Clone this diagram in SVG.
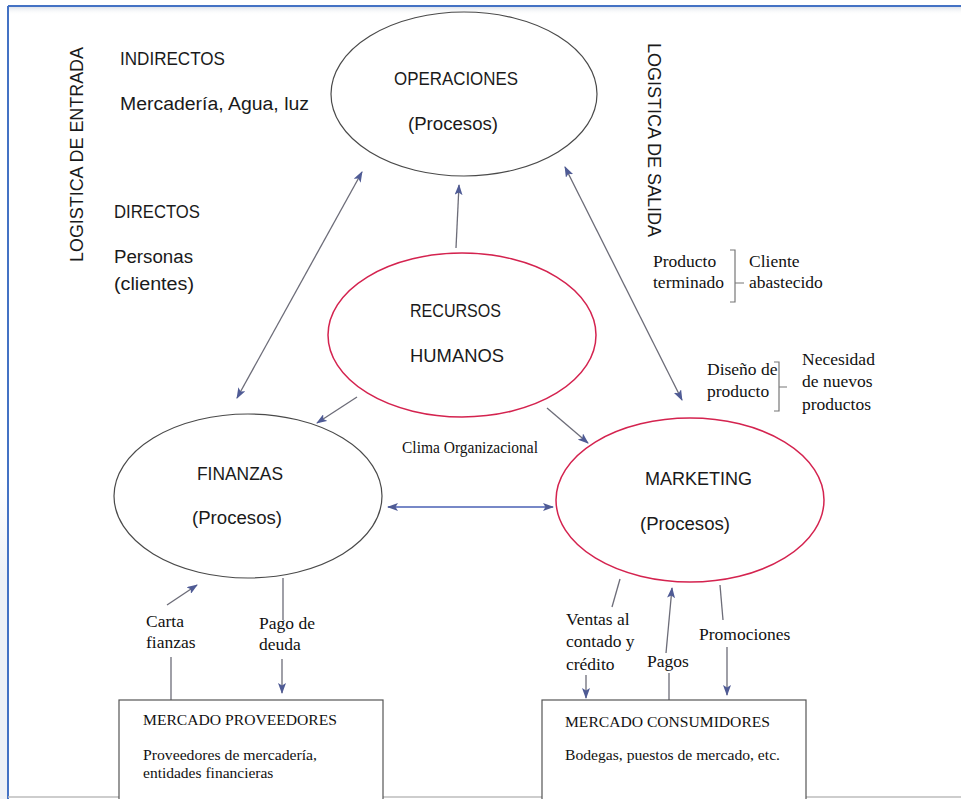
<svg xmlns="http://www.w3.org/2000/svg" width="961" height="799" viewBox="0 0 961 799">
  <defs>
    <marker id="head" markerUnits="userSpaceOnUse" markerWidth="11" markerHeight="8" refX="10" refY="4" orient="auto-start-reverse">
      <path d="M0,0 L11,4 L0,8 L2.5,4 z" fill="#4f5b95"/>
    </marker>
    <linearGradient id="shade" x1="0" y1="0" x2="0" y2="1">
      <stop offset="0" stop-color="#dfe3ea"/>
      <stop offset="1" stop-color="#ffffff" stop-opacity="0"/>
    </linearGradient>
    <linearGradient id="edge" x1="0" y1="0" x2="0" y2="1">
      <stop offset="0" stop-color="#ffffff"/>
      <stop offset="0.3" stop-color="#eef1f6"/>
      <stop offset="1" stop-color="#eef1f6"/>
    </linearGradient>
    <style>
      .sans { font-family: "Liberation Sans", Arial, sans-serif; font-size: 18px; fill: #1a1a1a; }
      .serif { font-family: "Liberation Serif", "Times New Roman", serif; font-size: 17.5px; fill: #111111; }
      .box-t { font-family: "Liberation Serif", "Times New Roman", serif; font-size: 15.5px; fill: #111111; }
      .oval { fill: #ffffff; stroke: #4a4a4a; stroke-width: 1.2; }
      .oval-red { fill: #ffffff; stroke: #d4234f; stroke-width: 1.5; }
      .box { fill: #ffffff; stroke: #555555; stroke-width: 1.2; }
      .link { fill: none; stroke: #6c6c78; stroke-width: 1.3; }
      .link-blue { fill: none; stroke: #4a60b4; stroke-width: 1.4; }
      .brace { fill: none; stroke: #777777; stroke-width: 1.2; }
    </style>
  </defs>

  <!-- page background and frame -->
  <rect x="0" y="0" width="961" height="799" fill="#ffffff"/>
  <rect x="0" y="480" width="7" height="319" fill="url(#edge)"/>
  <rect x="9" y="7" width="952" height="8" fill="url(#shade)"/>
  <line x1="8" y1="6" x2="961" y2="6" stroke="#4472c4" stroke-width="2"/>
  <line x1="8" y1="6" x2="8" y2="799" stroke="#4472c4" stroke-width="2"/>
  <line x1="8" y1="797" x2="961" y2="797" stroke="#bdbdbd" stroke-width="1.5"/>

  <!-- side labels -->
  <g id="logistica-entrada">
    <text class="sans" transform="translate(83,262) rotate(-90)" font-size="19" textLength="215" lengthAdjust="spacingAndGlyphs">LOGISTICA DE ENTRADA</text>
  </g>
  <g id="logistica-salida">
    <text class="sans" transform="translate(648,43) rotate(90)" font-size="19" textLength="194" lengthAdjust="spacingAndGlyphs">LOGISTICA DE SALIDA</text>
  </g>
  <g id="indirectos">
    <text class="sans" x="120" y="65" textLength="105" lengthAdjust="spacingAndGlyphs">INDIRECTOS</text>
    <text class="sans" x="120" y="110" textLength="189" lengthAdjust="spacingAndGlyphs">Mercadería, Agua, luz</text>
  </g>
  <g id="directos">
    <text class="sans" x="114" y="218" textLength="86" lengthAdjust="spacingAndGlyphs">DIRECTOS</text>
    <text class="sans" x="114" y="263" textLength="79" lengthAdjust="spacingAndGlyphs">Personas</text>
    <text class="sans" x="114" y="290" textLength="80" lengthAdjust="spacingAndGlyphs">(clientes)</text>
  </g>

  <!-- connectors -->
  <g id="connectors">
    <line class="link" x1="237" y1="398" x2="362" y2="172" marker-start="url(#head)" marker-end="url(#head)"/>
    <line class="link" x1="456" y1="248" x2="459" y2="185" marker-end="url(#head)"/>
    <line class="link" x1="565" y1="167" x2="682" y2="400" marker-start="url(#head)" marker-end="url(#head)"/>
    <line class="link" x1="357" y1="397" x2="317" y2="423" marker-end="url(#head)"/>
    <line class="link" x1="547" y1="408" x2="588" y2="443" marker-end="url(#head)"/>
    <line class="link-blue" x1="388" y1="507" x2="553" y2="507" marker-start="url(#head)" marker-end="url(#head)"/>

    <!-- finanzas / proveedores -->
    <line class="link" x1="167" y1="605" x2="197" y2="585" marker-end="url(#head)"/>
    <line class="link" x1="171" y1="657" x2="171" y2="700"/>
    <line class="link" x1="283" y1="578" x2="283" y2="620"/>
    <line class="link" x1="282" y1="659" x2="282" y2="693" marker-end="url(#head)"/>

    <!-- marketing / consumidores -->
    <line class="link" x1="620" y1="579" x2="612" y2="607"/>
    <line class="link" x1="586" y1="675" x2="586" y2="698" marker-end="url(#head)"/>
    <line class="link" x1="669" y1="700" x2="669" y2="673"/>
    <line class="link" x1="666" y1="653" x2="672" y2="588" marker-end="url(#head)"/>
    <line class="link" x1="720" y1="585" x2="723" y2="620"/>
    <line class="link" x1="727" y1="647" x2="727" y2="695" marker-end="url(#head)"/>
  </g>

  <!-- nodes -->
  <g id="operaciones">
    <ellipse class="oval" cx="464" cy="94" rx="133" ry="82"/>
    <text class="sans" x="394" y="85" textLength="124" lengthAdjust="spacingAndGlyphs">OPERACIONES</text>
    <text class="sans" x="408" y="130" textLength="90" lengthAdjust="spacingAndGlyphs">(Procesos)</text>
  </g>
  <g id="recursos-humanos">
    <ellipse class="oval-red" cx="462" cy="335" rx="134" ry="82"/>
    <text class="sans" x="410" y="317" textLength="91" lengthAdjust="spacingAndGlyphs">RECURSOS</text>
    <text class="sans" x="410" y="362" textLength="94" lengthAdjust="spacingAndGlyphs">HUMANOS</text>
  </g>
  <g id="finanzas">
    <ellipse class="oval" cx="248" cy="496" rx="134" ry="82"/>
    <text class="sans" x="197" y="480" textLength="86" lengthAdjust="spacingAndGlyphs">FINANZAS</text>
    <text class="sans" x="192" y="524" textLength="90" lengthAdjust="spacingAndGlyphs">(Procesos)</text>
  </g>
  <g id="marketing">
    <ellipse class="oval-red" cx="690" cy="500" rx="134" ry="82"/>
    <text class="sans" x="645" y="485" textLength="107" lengthAdjust="spacingAndGlyphs">MARKETING</text>
    <text class="sans" x="640" y="530" textLength="90" lengthAdjust="spacingAndGlyphs">(Procesos)</text>
  </g>

  <g id="clima">
    <text class="serif" x="402" y="453" font-size="15.5" textLength="136" lengthAdjust="spacingAndGlyphs">Clima Organizacional</text>
  </g>

  <!-- annotations with braces -->
  <g id="producto-terminado">
    <text class="serif" x="653" y="267">Producto</text>
    <text class="serif" x="653" y="288">terminado</text>
    <path class="brace" d="M730,250 H735 V302 H730 M735,283 H744"/>
    <text class="serif" x="749" y="267">Cliente</text>
    <text class="serif" x="749" y="288">abastecido</text>
  </g>
  <g id="diseno-producto">
    <text class="serif" x="707" y="375">Diseño de</text>
    <text class="serif" x="707" y="397">producto</text>
    <path class="brace" d="M774,362 H779 V411 H774 M779,387 H787"/>
    <text class="serif" x="802" y="365">Necesidad</text>
    <text class="serif" x="802" y="387">de nuevos</text>
    <text class="serif" x="802" y="410">productos</text>
  </g>

  <!-- flow labels -->
  <g id="labels">
    <text class="serif" x="146" y="627">Carta</text>
    <text class="serif" x="146" y="648">fianzas</text>
    <text class="serif" x="259" y="629">Pago de</text>
    <text class="serif" x="259" y="650">deuda</text>
    <text class="serif" x="566" y="625">Ventas al</text>
    <text class="serif" x="566" y="647">contado y</text>
    <text class="serif" x="566" y="670">crédito</text>
    <text class="serif" x="647" y="667">Pagos</text>
    <text class="serif" x="699" y="640">Promociones</text>
  </g>

  <g id="mercado-proveedores">
    <rect class="box" x="119" y="700" width="264" height="110"/>
    <text class="box-t" x="143" y="725" textLength="194" lengthAdjust="spacingAndGlyphs">MERCADO PROVEEDORES</text>
    <text class="box-t" x="143" y="760" textLength="174" lengthAdjust="spacingAndGlyphs">Proveedores de mercadería,</text>
    <text class="box-t" x="143" y="778">entidades financieras</text>
  </g>
  <g id="mercado-consumidores">
    <rect class="box" x="542" y="700" width="264" height="110"/>
    <text class="box-t" x="565" y="727" textLength="205" lengthAdjust="spacingAndGlyphs">MERCADO CONSUMIDORES</text>
    <text class="box-t" x="565" y="760" textLength="215" lengthAdjust="spacingAndGlyphs">Bodegas, puestos de mercado, etc.</text>
  </g>
</svg>
